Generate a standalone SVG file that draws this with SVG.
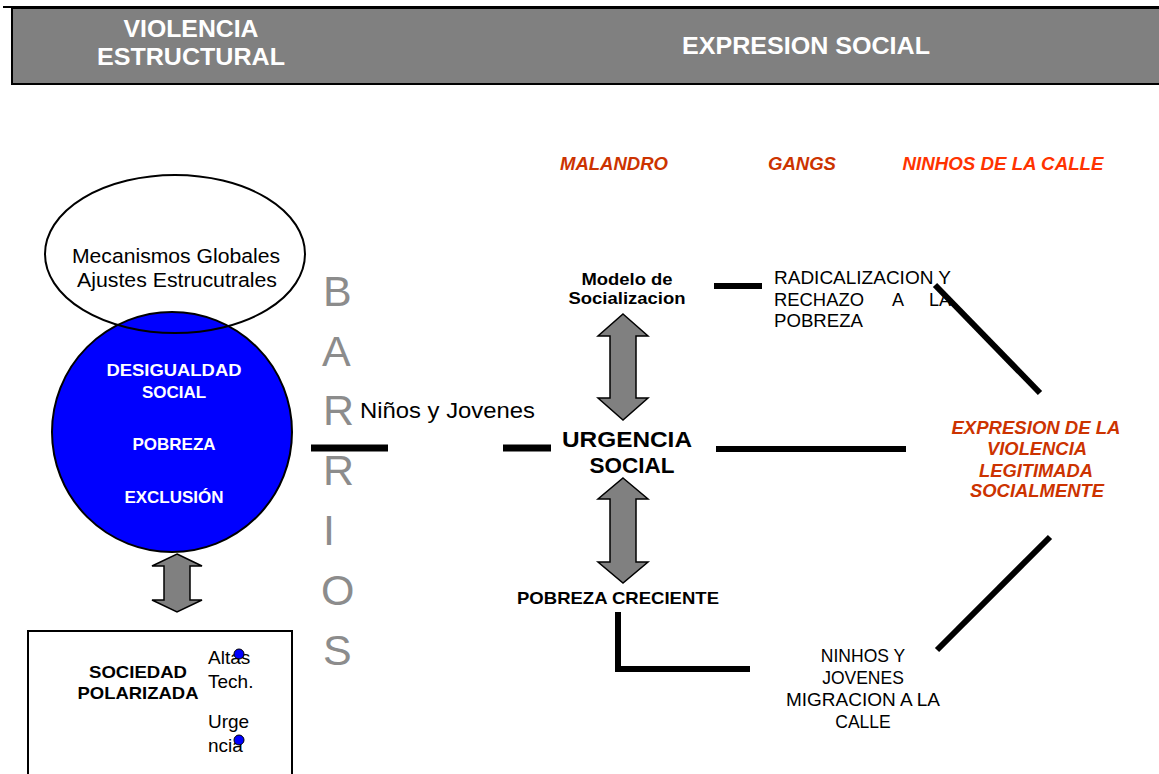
<svg xmlns="http://www.w3.org/2000/svg" width="1159" height="774" viewBox="0 0 1159 774">
<style>
text{font-family:"Liberation Sans",Arial,sans-serif}
.hdr{font-size:23px;font-weight:bold;fill:#fff;text-anchor:middle}
.wb{font-size:17px;font-weight:bold;fill:#fff;text-anchor:middle}
.reg{font-size:20px;fill:#000}
.bold{font-weight:bold;fill:#000;text-anchor:middle}
.red{font-size:18px;font-weight:bold;font-style:italic;fill:#cc3300;text-anchor:middle}
.bar{font-size:43px;fill:#8c8c8c}
.ln{stroke:#000;stroke-width:6;fill:none}
.arr{fill:#808080;stroke:#000;stroke-width:1.5;stroke-linejoin:miter}
</style>
<rect width="1159" height="774" fill="#fff"/>
<g id="header">
<line x1="3" y1="7" x2="1159" y2="7" stroke="#000" stroke-width="2"/>
<rect x="12" y="8" width="1150" height="76" fill="#808080" stroke="#000" stroke-width="2"/>
<text class="hdr" x="191" y="37" textLength="135" lengthAdjust="spacingAndGlyphs">VIOLENCIA</text>
<text class="hdr" x="191" y="65" textLength="188" lengthAdjust="spacingAndGlyphs">ESTRUCTURAL</text>
<text class="hdr" x="806" y="54" textLength="248" lengthAdjust="spacingAndGlyphs">EXPRESION SOCIAL</text>
</g>
<g id="top-labels">
<text class="red" x="614" y="170" textLength="108" lengthAdjust="spacingAndGlyphs">MALANDRO</text>
<text class="red" x="802" y="170" textLength="68" lengthAdjust="spacingAndGlyphs">GANGS</text>
<text class="red" x="1003" y="170" textLength="201" lengthAdjust="spacingAndGlyphs" style="fill:#ff3300">NINHOS DE LA CALLE</text>
</g>
<g id="desigualdad">
<circle cx="172" cy="432" r="120" fill="#0000ff" stroke="#000" stroke-width="2"/>
<text class="wb" x="174" y="376" textLength="135" lengthAdjust="spacingAndGlyphs">DESIGUALDAD</text>
<text class="wb" x="174" y="398">SOCIAL</text>
<text class="wb" x="174" y="450">POBREZA</text>
<text class="wb" x="174" y="503">EXCLUSIÓN</text>
</g>
<g id="mecanismos">
<ellipse cx="175" cy="254" rx="130" ry="79" fill="none" stroke="#000" stroke-width="2"/>
<text class="reg" x="176" y="263" text-anchor="middle" style="font-size:20.5px" textLength="208" lengthAdjust="spacingAndGlyphs">Mecanismos Globales</text>
<text class="reg" x="177" y="287" text-anchor="middle" style="font-size:20.5px" textLength="200" lengthAdjust="spacingAndGlyphs">Ajustes Estrucutrales</text>
</g>
<g id="barrios">
<text class="bar" x="323" y="306">B</text>
<text class="bar" x="322" y="366">A</text>
<text class="bar" x="323" y="425">R</text>
<text class="bar" x="323" y="485">R</text>
<text class="bar" x="323" y="545">I</text>
<text class="bar" x="321" y="605">O</text>
<text class="bar" x="323" y="665">S</text>
</g>
<g id="ninos">
<text class="reg" x="360" y="418" style="font-size:21.5px" textLength="175" lengthAdjust="spacingAndGlyphs">Niños y Jovenes</text>
</g>
<g id="sociedad">
<rect x="28" y="631" width="264" height="150" fill="#fff" stroke="#000" stroke-width="2"/>
<text class="bold" x="138" y="678" style="font-size:17px" textLength="98" lengthAdjust="spacingAndGlyphs">SOCIEDAD</text>
<text class="bold" x="138" y="699" style="font-size:17px" textLength="121" lengthAdjust="spacingAndGlyphs">POLARIZADA</text>
<text class="reg" x="208" y="664" style="font-size:19px">Altas</text>
<text class="reg" x="208" y="688" style="font-size:19px">Tech.</text>
<text class="reg" x="208" y="728" style="font-size:19px">Urge</text>
<text class="reg" x="208" y="752" style="font-size:19px">ncia</text>
<circle cx="239" cy="654" r="5" fill="#0000ff" stroke="#000" stroke-width="1"/>
<circle cx="239" cy="740" r="5" fill="#0000ff" stroke="#000" stroke-width="1"/>
</g>
<g id="modelo">
<text class="bold" x="627" y="285" style="font-size:17px" textLength="91" lengthAdjust="spacingAndGlyphs">Modelo de</text>
<text class="bold" x="627" y="304" style="font-size:17px" textLength="117" lengthAdjust="spacingAndGlyphs">Socializacion</text>
</g>
<g id="urgencia">
<text class="bold" x="627" y="447" style="font-size:22px" textLength="130" lengthAdjust="spacingAndGlyphs">URGENCIA</text>
<text class="bold" x="632" y="473" style="font-size:22px" textLength="85" lengthAdjust="spacingAndGlyphs">SOCIAL</text>
</g>
<g id="pobreza-creciente">
<text class="bold" x="618" y="604" style="font-size:17px" textLength="202" lengthAdjust="spacingAndGlyphs">POBREZA CRECIENTE</text>
</g>
<g id="radicalizacion">
<text class="reg" x="774" y="284" style="font-size:18px" textLength="177" lengthAdjust="spacingAndGlyphs">RADICALIZACION Y</text>
<text class="reg" x="774" y="306" style="font-size:18px" textLength="90" lengthAdjust="spacingAndGlyphs">RECHAZO</text>
<text class="reg" x="892" y="306" style="font-size:18px">A</text>
<text class="reg" x="929" y="306" style="font-size:18px">LA</text>
<text class="reg" x="774" y="327" style="font-size:18px" textLength="89" lengthAdjust="spacingAndGlyphs">POBREZA</text>
</g>
<g id="expresion">
<text class="red" x="1036" y="434" textLength="169" lengthAdjust="spacingAndGlyphs">EXPRESION DE LA</text>
<text class="red" x="1037" y="455" textLength="100" lengthAdjust="spacingAndGlyphs">VIOLENCIA</text>
<text class="red" x="1036" y="477" textLength="114" lengthAdjust="spacingAndGlyphs">LEGITIMADA</text>
<text class="red" x="1037" y="497" textLength="134" lengthAdjust="spacingAndGlyphs">SOCIALMENTE</text>
</g>
<g id="ninhos-jovenes">
<text class="reg" x="863" y="662" text-anchor="middle" style="font-size:17.5px">NINHOS Y</text>
<text class="reg" x="863" y="684" text-anchor="middle" style="font-size:17.5px">JOVENES</text>
<text class="reg" x="863" y="706" text-anchor="middle" style="font-size:17.5px" textLength="154" lengthAdjust="spacingAndGlyphs">MIGRACION A LA</text>
<text class="reg" x="863" y="728" text-anchor="middle" style="font-size:17.5px">CALLE</text>
</g>
<g id="connectors">
<line class="ln" x1="311" y1="448" x2="388" y2="448" style="stroke-width:7"/>
<line class="ln" x1="503" y1="448" x2="551" y2="448" style="stroke-width:7"/>
<line class="ln" x1="716" y1="449" x2="906" y2="449"/>
<line class="ln" x1="714" y1="286" x2="762" y2="286"/>
<line class="ln" x1="935" y1="285" x2="1040" y2="393"/>
<line class="ln" x1="1050" y1="537" x2="937" y2="650"/>
<path class="ln" d="M618 612 V669 H750"/>
<polygon class="arr" points="623,314 648,336 636,336 636,398 648,398 623,420 598,398 610,398 610,336 598,336"/>
<polygon class="arr" points="623,478 648,499 636,499 636,562 648,562 623,583 598,562 610,562 610,499 598,499"/>
<polygon class="arr" points="177,554 202,566 190,566 190,600 202,600 177,612 152,600 164,600 164,566 152,566"/>
</g>
</svg>
